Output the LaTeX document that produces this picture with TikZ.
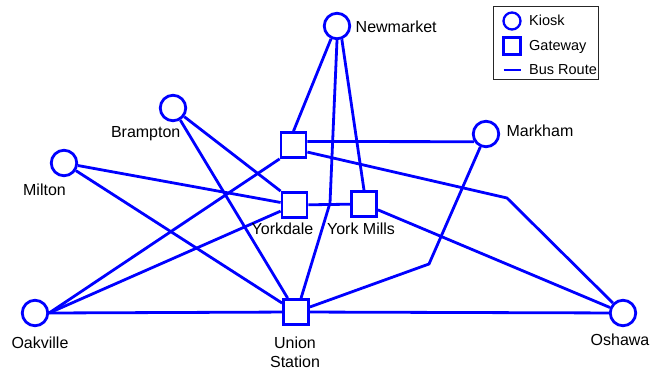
\documentclass[tikz,border=0pt]{standalone}
\usepackage{fontspec}
\setmainfont{Liberation Sans}
\usetikzlibrary{backgrounds}
\begin{document}
\begin{tikzpicture}[x=1pt,y=-1pt,
  kiosk/.style={circle,draw=blue,line width=2.8pt,minimum size=25.5pt,inner sep=0pt,fill=white},
  gateway/.style={rectangle,draw=blue,line width=2.8pt,minimum size=25pt,inner sep=0pt,fill=white},
  route/.style={draw=blue,line width=2.8pt,line join=miter},
  lbl/.style={font=\fontsize{16}{19}\selectfont,inner sep=0pt,text=black},
  leglbl/.style={font=\fontsize{14.5}{17}\selectfont,inner sep=0pt,text=black,anchor=base west}]
\useasboundingbox (0,0) rectangle (662,374);

% nodes
\node[kiosk] (newmarket) at (337,26) {};
\node[kiosk] (brampton) at (173,108) {};
\node[kiosk] (milton) at (64,163) {};
\node[kiosk] (markham) at (486,134) {};
\node[kiosk] (oakville) at (35,313) {};
\node[kiosk] (oshawa) at (623,313) {};
\node[gateway] (sqtop) at (293.5,145) {};
\node[gateway] (yorkdale) at (294.5,205) {};
\node[gateway] (yorkmills) at (364,204) {};
\node[gateway] (union) at (296,312) {};

\coordinate (b1) at (330,203);
\coordinate (b2) at (507,198);
\coordinate (b3) at (429,264);

% routes
\begin{scope}[on background layer]
\draw[route] (newmarket.245) -- (sqtop.north);
\draw[route] (newmarket.south) -- (b1) -- (union.70);
\draw[route] (newmarket.-70) -- (yorkmills.north);
\draw[route] ([yshift=3.5pt]sqtop.east) -- (markham.213);
\draw[route] (sqtop.-27) -- (b2) -- (oshawa);
\draw[route] (sqtop.south west) -- (oakville.east);
\draw[route] (brampton) -- (yorkdale.north west);
\draw[route] (brampton) -- (union);
\draw[route] (milton) -- (yorkdale);
\draw[route] (milton) -- (union);
\draw[route] (yorkdale) -- (yorkmills);
\draw[route] (yorkdale) -- (oakville.east);
\draw[route] (yorkmills) -- (oshawa);
\draw[route] (markham) -- (b3) -- (union);
\draw[route] (oakville.east) -- (union);
\draw[route] (union) -- (oshawa);
\end{scope}

% labels
\node[lbl,anchor=base west] (lnewmarket) at (355.5,32.7) {Newmarket};
\node[lbl,anchor=base] (lbrampton) at (145.7,137.7) {Brampton};
\node[lbl,anchor=base] (lmilton) at (44.5,196) {Milton};
\node[lbl,anchor=base] (lmarkham) at (540,137) {Markham};
\node[lbl,anchor=base] (lyorkdale) at (282.5,235) {Yorkdale};
\node[lbl,anchor=base] (lyorkmills) at (361,235) {York Mills};
\node[lbl,anchor=base] (loakville) at (40,348.3) {Oakville};
\node[lbl,anchor=base] (lunion) at (295,348.3) {Union};
\node[lbl,anchor=base] (lstation) at (295,367.3) {Station};
\node[lbl,anchor=base] (loshawa) at (620,345) {Oshawa};

% legend
\node[draw=black!85,line width=0.8pt,minimum width=105pt,minimum height=73pt,inner sep=0pt] (legend) at (545.5,42.5) {};
\node[circle,draw=blue,line width=2.3pt,minimum size=17pt,inner sep=0pt] (legkiosk) at (512,21) {};
\node[rectangle,draw=blue,line width=2.3pt,minimum size=17pt,inner sep=0pt] (leggate) at (512,46) {};
\coordinate (legl1) at (503.5,70);
\coordinate (legl2) at (520.5,70);
\draw[blue,line width=2.4pt] (legl1) -- (legl2);
\node[leglbl] (tkiosk) at (529,26) {Kiosk};
\node[leglbl] (tgate) at (529,50.5) {Gateway};
\node[leglbl] (tbus) at (529,74.7) {Bus Route};
\end{tikzpicture}
\end{document}
